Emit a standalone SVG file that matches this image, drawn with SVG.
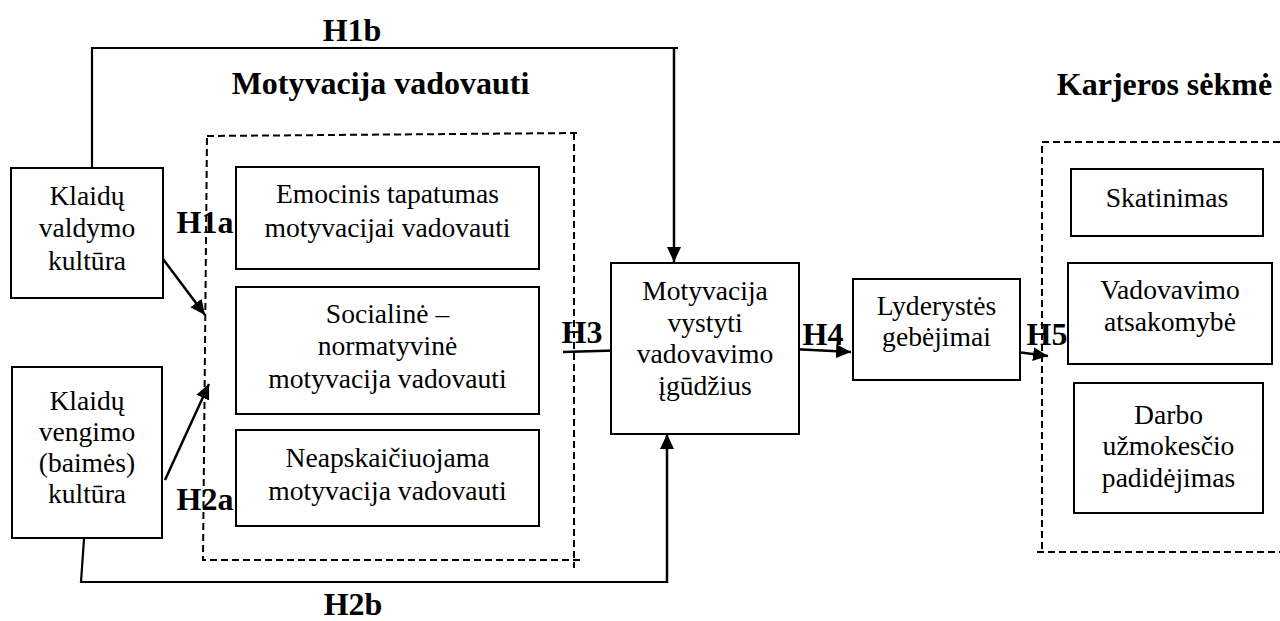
<svg xmlns="http://www.w3.org/2000/svg" width="1280" height="621" viewBox="0 0 1280 621">
  <style>
    .box { fill: #ffffff; stroke: #000000; stroke-width: 2; }
    .dash { fill: none; stroke: #000000; stroke-width: 2; stroke-dasharray: 7 4; }
    .line { fill: none; stroke: #000000; stroke-width: 2.2; }
    .arrow { fill: none; stroke: #000000; stroke-width: 2.5; marker-end: url(#head); }
    .t { font-family: 'Liberation Serif', 'Times New Roman', serif; font-size: 27.6px; fill: #000000; text-anchor: middle; }
    .b { font-family: 'Liberation Serif', 'Times New Roman', serif; font-size: 32px; font-weight: bold; fill: #000000; text-anchor: middle; }
  </style>
  <defs>
    <marker id="head" markerUnits="userSpaceOnUse" markerWidth="16" markerHeight="15" refX="15" refY="7" orient="auto">
      <path d="M0,0 L15,7 L0,14 Z" fill="#000000"/>
    </marker>
  </defs>

  <rect x="0" y="0" width="1280" height="621" fill="#ffffff"/>

  <!-- group frames (dashed) with their headings -->
  <g id="frame-motyvacija-vadovauti">
    <path class="dash" d="M207,136 L577,133 M574,133 L574,568 M580,560 L203,560 L207,136"/>
    <text class="b" x="380.5" y="94">Motyvacija vadovauti</text>
  </g>
  <g id="frame-karjeros-sekme">
    <path class="dash" d="M1280,142 L1042,142 L1042,552 M1037,552 L1280,552"/>
    <text class="b" x="1164.5" y="95">Karjeros sėkmė</text>
  </g>

  <!-- connectors and hypothesis labels -->
  <g id="connectors">
    <polyline class="line" points="92,167 92,48 678,48"/>
    <line class="arrow" x1="674" y1="47" x2="674" y2="262"/>
    <polyline class="line" points="84,539 81,582 668,582"/>
    <line class="arrow" x1="667" y1="583" x2="667" y2="434"/>
    <line class="arrow" x1="160" y1="255" x2="205" y2="315"/>
    <line class="arrow" x1="165" y1="480" x2="209" y2="384"/>
    <line class="arrow" x1="563" y1="352" x2="632" y2="350"/>
    <line class="arrow" x1="793" y1="349" x2="851" y2="352"/>
    <line class="arrow" x1="1017" y1="352" x2="1048" y2="356"/>
    <text class="b" x="352" y="41">H1b</text>
    <text class="b" x="353" y="615">H2b</text>
    <text class="b" x="205" y="233">H1a</text>
    <text class="b" x="205" y="510">H2a</text>
    <text class="b" x="582" y="343">H3</text>
    <text class="b" x="823" y="345">H4</text>
    <text class="b" x="1047" y="345">H5</text>
  </g>

  <!-- nodes -->
  <g id="klaidu-valdymo-kultura">
    <rect class="box" x="11" y="168" width="152" height="130"/>
    <text class="t" x="87" y="205">Klaidų</text>
    <text class="t" x="87" y="237">valdymo</text>
    <text class="t" x="87" y="270">kultūra</text>
  </g>
  <g id="klaidu-vengimo-kultura">
    <rect class="box" x="12" y="367" width="150" height="171"/>
    <text class="t" x="87" y="410">Klaidų</text>
    <text class="t" x="87" y="441">vengimo</text>
    <text class="t" x="87" y="472">(baimės)</text>
    <text class="t" x="87" y="503">kultūra</text>
  </g>
  <g id="emocinis-tapatumas">
    <rect class="box" x="236" y="167" width="303" height="102"/>
    <text class="t" x="387.5" y="203">Emocinis tapatumas</text>
    <text class="t" x="387.5" y="237">motyvacijai vadovauti</text>
  </g>
  <g id="socialine-normatyvine">
    <rect class="box" x="236" y="287" width="303" height="127"/>
    <text class="t" x="387.5" y="323">Socialinė –</text>
    <text class="t" x="387.5" y="355">normatyvinė</text>
    <text class="t" x="387.5" y="388">motyvacija vadovauti</text>
  </g>
  <g id="neapskaiciuojama">
    <rect class="box" x="236" y="430" width="303" height="96"/>
    <text class="t" x="387.5" y="467">Neapskaičiuojama</text>
    <text class="t" x="387.5" y="500">motyvacija vadovauti</text>
  </g>
  <g id="motyvacija-vystyti">
    <rect class="box" x="611" y="263" width="188" height="171"/>
    <text class="t" x="705" y="300">Motyvacija</text>
    <text class="t" x="705" y="331.5">vystyti</text>
    <text class="t" x="705" y="363">vadovavimo</text>
    <text class="t" x="705" y="394.5">įgūdžius</text>
  </g>
  <g id="lyderystes-gebejimai">
    <rect class="box" x="853" y="279" width="167" height="101"/>
    <text class="t" x="936.5" y="315">Lyderystės</text>
    <text class="t" x="936.5" y="346">gebėjimai</text>
  </g>
  <g id="skatinimas">
    <rect class="box" x="1071" y="169" width="192" height="67"/>
    <text class="t" x="1167" y="207">Skatinimas</text>
  </g>
  <g id="vadovavimo-atsakomybe">
    <rect class="box" x="1068" y="263" width="204" height="101"/>
    <text class="t" x="1170" y="299">Vadovavimo</text>
    <text class="t" x="1170" y="331">atsakomybė</text>
  </g>
  <g id="darbo-uzmokescio">
    <rect class="box" x="1074" y="383" width="189" height="130"/>
    <text class="t" x="1168.5" y="424">Darbo</text>
    <text class="t" x="1168.5" y="455">užmokesčio</text>
    <text class="t" x="1168.5" y="487">padidėjimas</text>
  </g>
</svg>
